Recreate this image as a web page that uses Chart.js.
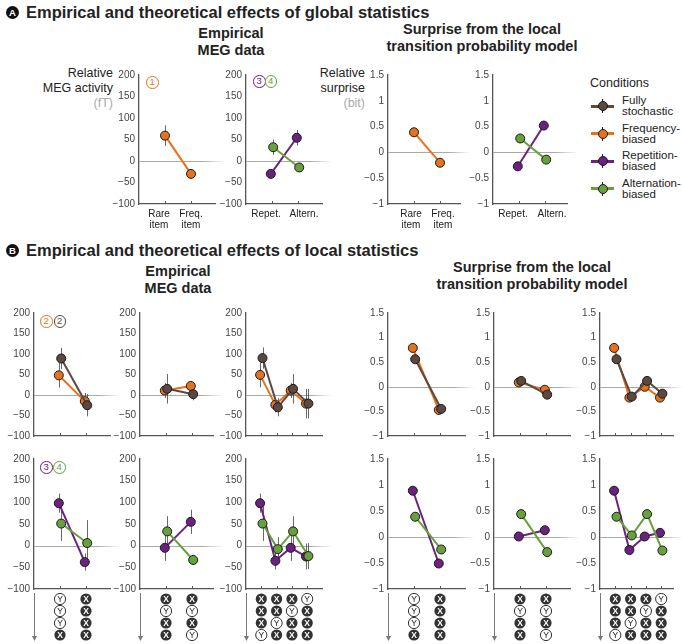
<!DOCTYPE html>
<html>
<head>
<meta charset="utf-8">
<script src="https://cdn.jsdelivr.net/npm/chart.js@4.4.1/dist/chart.umd.min.js"></script>
<style>
  body { margin: 0; background: #fff; }
  #fig { position: relative; width: 682px; height: 644px; overflow: hidden;
         font-family: "Liberation Sans", Arial, sans-serif; color: #222; }
  #fig .t { position: absolute; white-space: nowrap; }
  #fig canvas { position: absolute; }
  .hd { font-weight: bold; font-size: 16.5px; line-height: 20px; }
  .dot { position: absolute; width: 13px; height: 13px; border-radius: 50%; background: #111; color: #fff;
         font: bold 9.5px/13px "Liberation Sans", Arial, sans-serif; text-align: center; }
  .sub { font-weight: bold; font-size: 14.5px; line-height: 17px; text-align: center; width: 300px; }
  .yt { font-size: 12.5px; line-height: 15px; text-align: right; }
  .yt span { color: #aaa; }
  .num { position: absolute; box-sizing: border-box; width: 12.5px; height: 12.5px; border: 1.2px solid; border-radius: 50%;
         font: 9.5px/10px "Liberation Sans", Arial, sans-serif; text-align: center; background: #fff; }
  .lg { font-size: 11.5px; line-height: 11px; }
</style>
</head>
<body>
<div id="fig">
  <div class="dot" style="left:6px;top:6px">A</div>
  <div class="t hd" style="left:26px;top:2px">Empirical and theoretical effects of global statistics</div>
  <div class="t sub" style="left:81px;top:24.5px">Empirical<br>MEG data</div>
  <div class="t sub" style="left:332px;top:20.5px">Surprise from the local<br>transition probability model</div>
  <div class="t yt" style="right:569px;top:65.5px">Relative<br>MEG activity<br><span>(fT)</span></div>
  <div class="t yt" style="right:317px;top:65.5px">Relative<br>surprise<br><span>(bit)</span></div>

  <div class="dot" style="left:6px;top:244px">B</div>
  <div class="t hd" style="left:26px;top:240px">Empirical and theoretical effects of local statistics</div>
  <div class="t sub" style="left:28px;top:262.5px">Empirical<br>MEG data</div>
  <div class="t sub" style="left:382px;top:259px">Surprise from the local<br>transition probability model</div>

  <div class="num" style="left:146px;top:76px;color:#e6721d">1</div>
  <div class="num" style="left:253px;top:75px;color:#6b2180">3</div>
  <div class="num" style="left:264.5px;top:75px;color:#66a13b">4</div>
  <div class="num" style="left:40px;top:315px;color:#e6721d">2</div>
  <div class="num" style="left:53.5px;top:315px;color:#5b4840">2</div>
  <div class="num" style="left:40px;top:461px;color:#6b2180">3</div>
  <div class="num" style="left:53px;top:461px;color:#66a13b">4</div>

  <div class="t" style="left:590px;top:75.5px;font-size:12.5px;line-height:15px">Conditions</div>
  <div id="legend"></div>
</div>
<script>
// ---- panel A: global statistics ----
const aCatsFreq = [['Rare', 'item'], ['Freq.', 'item']];
const aCatsTrans = ['Repet.', 'Altern.'];
const aMegFreq = [59, -30];
const aMegFreqErr = [24, 5];
const aMegRep = [-30, 54];
const aMegRepErr = [5, 18];
const aMegAlt = [32, -15];
const aMegAltErr = [18, 7];
const aSurFreq = [0.39, -0.2];
const aSurRep = [-0.27, 0.52];
const aSurAlt = [0.27, -0.14];

// ---- panel B: local statistics, item sequences per column (top = oldest) ----
const seq1 = [['Y', 'Y', 'Y', 'X'], ['X', 'X', 'X', 'X']];
const seq2 = [['X', 'Y', 'X', 'X'], ['X', 'Y', 'X', 'Y']];
const seq3 = [['X', 'X', 'X', 'Y'], ['X', 'X', 'Y', 'X'], ['X', 'Y', 'X', 'X'], ['Y', 'X', 'X', 'X']];

const bMegStoch1 = [89, -25], bMegStoch1Err = [26, 27];
const bMegFreq1 = [48, -15], bMegFreq1Err = [30, 20];
const bMegStoch2 = [15, 2], bMegStoch2Err = [36, 15];
const bMegFreq2 = [11, 22], bMegFreq2Err = [18, 12];
const bMegStoch3 = [90, -30, 15, -21], bMegStoch3Err = [26, 22, 36, 36];
const bMegFreq3 = [49, -24, 11, -21], bMegFreq3Err = [30, 18, 18, 36];
const bMegRep1 = [98, -38], bMegRep1Err = [22, 20];
const bMegAlt1 = [51, 6], bMegAlt1Err = [40, 53];
const bMegRep2 = [-5, 55], bMegRep2Err = [30, 28];
const bMegAlt2 = [33, -33], bMegAlt2Err = [35, 12];
const bMegRep3 = [98, -35, -5, -25], bMegRep3Err = [22, 20, 30, 30];
const bMegAlt3 = [51, -8, 33, -24], bMegAlt3Err = [40, 28, 35, 30];

const bSurStoch1 = [0.56, -0.45];
const bSurFreq1 = [0.79, -0.47];
const bSurStoch2 = [0.12, -0.16];
const bSurFreq2 = [0.09, -0.06];
const bSurStoch3 = [0.56, -0.2, 0.12, -0.14];
const bSurFreq3 = [0.79, -0.22, 0.0, -0.22];
const bSurRep1 = [0.89, -0.51];
const bSurAlt1 = [0.39, -0.24];
const bSurRep2 = [0.01, 0.13];
const bSurAlt2 = [0.44, -0.29];
const bSurRep3 = [0.89, -0.25, 0.01, 0.08];
const bSurAlt3 = [0.39, 0.03, 0.44, -0.26];

const conditions = [['Fully', 'stochastic'], ['Frequency-', 'biased'], ['Repetition-', 'biased'], ['Alternation-', 'biased']];
const COL = { stoch: '#5b4840', freq: '#e6721d', rep: '#6b2180', alt: '#66a13b' };
const condColors = [COL.stoch, COL.freq, COL.rep, COL.alt];

const fig = document.getElementById('fig');
const FONT = '"Liberation Sans", Arial, sans-serif';
const fmt = v => (v < 0 ? '\u2212' : '') + Math.abs(v);

// zero line, error bars, category ticks and the item sequences under the axes
const deco = {
  id: 'deco',
  beforeDatasetsDraw(chart, args, o) {
    const { ctx, chartArea: a, scales: { x, y } } = chart;
    ctx.save();
    const y0 = Math.round(y.getPixelForValue(0)) + 0.5;
    const g = ctx.createLinearGradient(a.left, 0, a.right + 10, 0);
    g.addColorStop(0, '#aaa'); g.addColorStop(0.75, '#aaa'); g.addColorStop(1, 'rgba(170,170,170,0)');
    ctx.strokeStyle = g; ctx.lineWidth = 1.2;
    ctx.beginPath(); ctx.moveTo(a.left, y0); ctx.lineTo(a.right + 10, y0); ctx.stroke();

    ctx.strokeStyle = '#555'; ctx.lineWidth = 1;
    for (let i = 1; i <= o.n; i++) {
      const px = Math.round(x.getPixelForValue(i)) + 0.5;
      ctx.beginPath(); ctx.moveTo(px, a.bottom); ctx.lineTo(px, a.bottom - 3); ctx.stroke();
    }

    ctx.strokeStyle = 'rgba(40,40,40,0.7)';
    chart.data.datasets.forEach((ds, d) => {
      if (!ds.errorBars) return;
      const meta = chart.getDatasetMeta(d);
      ds.errorBars.forEach((e, i) => {
        const v = ds.data[i].y, px = Math.round(meta.data[i].x) + 0.5;
        ctx.beginPath();
        ctx.moveTo(px, y.getPixelForValue(v + e));
        ctx.lineTo(px, y.getPixelForValue(v - e));
        ctx.stroke();
      });
    });
    ctx.restore();
  },
  afterDraw(chart, args, o) {
    if (!o.seq) return;
    const { ctx, chartArea: a, scales: { x } } = chart;
    ctx.save();
    o.seq.forEach((col, i) => {
      const cx = x.getPixelForValue(i + 1);
      col.forEach((s, r) => {
        const cy = a.bottom + 10 + r * 12;
        ctx.beginPath(); ctx.arc(cx, cy, 5.6, 0, Math.PI * 2);
        if (s === 'X') {
          ctx.fillStyle = '#333'; ctx.fill(); ctx.fillStyle = '#fff';
          ctx.font = 'bold 8.5px ' + FONT;
        } else {
          ctx.fillStyle = '#fff'; ctx.fill();
          ctx.strokeStyle = '#333'; ctx.lineWidth = 1; ctx.stroke();
          ctx.fillStyle = '#222'; ctx.font = '8.5px ' + FONT;
        }
        ctx.textAlign = 'center'; ctx.textBaseline = 'middle';
        ctx.fillText(s, cx, cy + 0.5);
      });
    });
    // time arrow
    const ax = Math.round(a.left) + 0.5;
    ctx.strokeStyle = '#777'; ctx.fillStyle = '#777'; ctx.lineWidth = 1;
    ctx.beginPath(); ctx.moveTo(ax, a.bottom + 4); ctx.lineTo(ax, a.bottom + 48); ctx.stroke();
    ctx.beginPath(); ctx.moveTo(ax - 2.5, a.bottom + 47); ctx.lineTo(ax + 2.5, a.bottom + 47); ctx.lineTo(ax, a.bottom + 52); ctx.closePath(); ctx.fill();
    ctx.restore();
  }
};
Chart.register(deco);

const Y_W = 40, PAD_T = 8, PAD_R = 12;

function ser(values, errs, color, side) { return { values, errs, color, side }; }

function panel(L, T, B, R, o) {
  const n = o.n;
  const unitPx = n === 2 ? 26 : 15.3;
  const off = 1.2 / unitPx;
  const shift = o.shift || [0, 0, 0, 0];
  const cv = document.createElement('canvas');
  cv.width = Y_W + (R - L) + PAD_R;
  cv.height = PAD_T + (B - T) + o.xh;
  cv.style.left = (L - Y_W) + 'px';
  cv.style.top = (T - PAD_T) + 'px';
  fig.appendChild(cv);
  const meg = o.kind === 'meg';
  return new Chart(cv, {
    type: 'line',
    data: {
      datasets: o.series.map(s => ({
        data: s.values.map((v, i) => ({ x: i + 1 + s.side * off, y: v })),
        errorBars: s.errs || null,
        borderColor: s.color,
        backgroundColor: s.color,
        borderWidth: 2,
        pointRadius: 4.5,
        pointBackgroundColor: s.color,
        pointBorderColor: '#1a1a1a',
        pointBorderWidth: 1,
        tension: 0
      }))
    },
    options: {
      responsive: false,
      animation: false,
      layout: { padding: { top: PAD_T, right: PAD_R, left: 0, bottom: 0 } },
      plugins: { legend: { display: false }, tooltip: { enabled: false }, deco: { n, seq: o.seq || null } },
      scales: {
        x: {
          type: 'linear', min: 0, max: (R - L) / unitPx,
          afterBuildTicks: s => { s.ticks = Array.from({ length: n }, (_, i) => ({ value: i + 1 + shift[i] / unitPx })); },
          afterFit: s => { s.height = o.xh; },
          grid: { display: false, drawTicks: false },
          border: { color: '#555', width: 1.3 },
          ticks: {
            display: !!o.labels, autoSkip: false, maxRotation: 0, padding: 5, color: '#222',
            font: { family: FONT, size: 10, lineHeight: 1.1 },
            callback: (v, i) => o.labels ? o.labels[i] : ''
          }
        },
        y: {
          min: meg ? -100 : -1, max: meg ? 200 : 1.5,
          afterFit: s => { s.width = Y_W; },
          grid: { display: false, drawTicks: false },
          border: { color: '#555', width: 1.3 },
          ticks: { stepSize: meg ? 50 : 0.5, padding: 4, color: '#444', font: { family: FONT, size: 10 }, callback: fmt }
        }
      }
    }
  });
}

// panel A
panel(139, 73, 204, 215, { kind: 'meg', n: 2, xh: 34, labels: aCatsFreq, shift: [-6, 0],
  series: [ser(aMegFreq, aMegFreqErr, COL.freq, 0)] });
panel(246, 73, 204, 322, { kind: 'meg', n: 2, xh: 34, labels: aCatsTrans, shift: [-6, 6],
  series: [ser(aMegAlt, aMegAltErr, COL.alt, 1), ser(aMegRep, aMegRepErr, COL.rep, -1)] });
panel(388, 73, 204, 460, { kind: 'sur', n: 2, xh: 34, labels: aCatsFreq, shift: [-3, 3],
  series: [ser(aSurFreq, null, COL.freq, 0)] });
panel(493, 73, 204, 567, { kind: 'sur', n: 2, xh: 34, labels: aCatsTrans, shift: [-6, 7],
  series: [ser(aSurAlt, null, COL.alt, 1), ser(aSurRep, null, COL.rep, -1)] });

// panel B, MEG
panel(34, 311, 442, 110, { kind: 'meg', n: 2, xh: 4,
  series: [ser(bMegStoch1, bMegStoch1Err, COL.stoch, 1), ser(bMegFreq1, bMegFreq1Err, COL.freq, -1)] });
panel(140, 311, 442, 213, { kind: 'meg', n: 2, xh: 4,
  series: [ser(bMegStoch2, bMegStoch2Err, COL.stoch, 1), ser(bMegFreq2, bMegFreq2Err, COL.freq, -1)] });
panel(246, 311, 442, 322, { kind: 'meg', n: 4, xh: 4,
  series: [ser(bMegStoch3, bMegStoch3Err, COL.stoch, 1), ser(bMegFreq3, bMegFreq3Err, COL.freq, -1)] });
panel(34, 457, 589, 110, { kind: 'meg', n: 2, xh: 55, seq: seq1,
  series: [ser(bMegAlt1, bMegAlt1Err, COL.alt, 1), ser(bMegRep1, bMegRep1Err, COL.rep, -1)] });
panel(140, 457, 589, 213, { kind: 'meg', n: 2, xh: 55, seq: seq2,
  series: [ser(bMegAlt2, bMegAlt2Err, COL.alt, 1), ser(bMegRep2, bMegRep2Err, COL.rep, -1)] });
panel(246, 457, 589, 322, { kind: 'meg', n: 4, xh: 55, seq: seq3,
  series: [ser(bMegAlt3, bMegAlt3Err, COL.alt, 1), ser(bMegRep3, bMegRep3Err, COL.rep, -1)] });

// panel B, model surprise
panel(388, 311, 442, 465, { kind: 'sur', n: 2, xh: 4,
  series: [ser(bSurStoch1, null, COL.stoch, 1), ser(bSurFreq1, null, COL.freq, -1)] });
panel(494, 311, 442, 570, { kind: 'sur', n: 2, xh: 4,
  series: [ser(bSurStoch2, null, COL.stoch, 1), ser(bSurFreq2, null, COL.freq, -1)] });
panel(600, 311, 442, 673, { kind: 'sur', n: 4, xh: 4,
  series: [ser(bSurStoch3, null, COL.stoch, 1), ser(bSurFreq3, null, COL.freq, -1)] });
panel(388, 457, 589, 465, { kind: 'sur', n: 2, xh: 55, seq: seq1,
  series: [ser(bSurAlt1, null, COL.alt, 1), ser(bSurRep1, null, COL.rep, -1)] });
panel(494, 457, 589, 570, { kind: 'sur', n: 2, xh: 55, seq: seq2,
  series: [ser(bSurAlt2, null, COL.alt, 1), ser(bSurRep2, null, COL.rep, -1)] });
panel(600, 457, 589, 673, { kind: 'sur', n: 4, xh: 55, seq: seq3,
  series: [ser(bSurAlt3, null, COL.alt, 1), ser(bSurRep3, null, COL.rep, -1)] });

// legend of conditions
const lg = document.getElementById('legend');
conditions.forEach((c, i) => {
  const y = 106 + i * 27.5;
  lg.insertAdjacentHTML('beforeend',
    `<div style="position:absolute;left:591px;top:${y - 1.5}px;width:23px;height:3px;background:${condColors[i]}"></div>` +
    `<div style="position:absolute;left:602px;top:${y - 7}px;width:1px;height:14px;background:#222"></div>` +
    `<div style="position:absolute;left:597.5px;top:${y - 5}px;width:8px;height:8px;border:1px solid #1a1a1a;border-radius:50%;background:${condColors[i]}"></div>` +
    `<div class="t lg" style="left:622px;top:${y - 11}px">${c[0]}<br>${c[1]}</div>`);
});
</script>
</body>
</html>
